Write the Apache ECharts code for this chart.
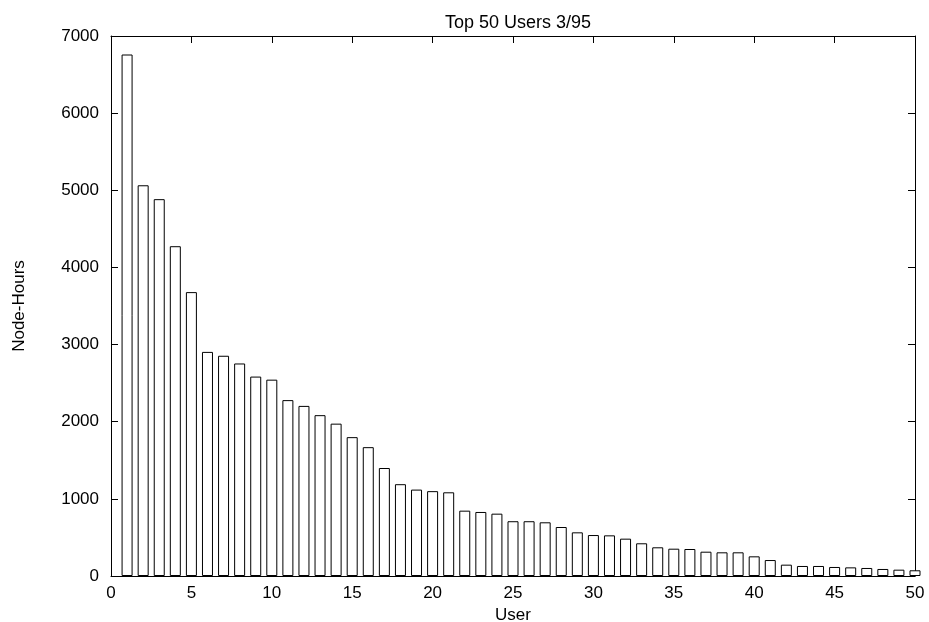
<!DOCTYPE html>
<html>
<head>
<meta charset="utf-8">
<title>Top 50 Users 3/95</title>
<script src="https://cdn.jsdelivr.net/npm/echarts@6/dist/echarts.min.js"></script>
<style>
  html, body { margin: 0; padding: 0; background: #fff; }
  #chart { width: 929px; height: 622px; }
</style>
</head>
<body>
<div id="chart"></div>
<script>
  // user rank 1..50
  var users = [];
  for (var i = 1; i <= 50; i++) users.push(i);

  // node-hours per user
  var nodeHours = [
    6760, 5065, 4885, 4275, 3680, 2905, 2855, 2755, 2585, 2545,
    2280, 2205, 2085, 1975, 1800, 1670, 1400, 1190, 1120, 1100,
    1085, 847, 830, 808, 710, 710, 696, 635, 566, 531,
    527, 484, 424, 372, 354, 350, 315, 307, 307, 255,
    207, 147, 130, 130, 117, 112, 104, 91, 82, 74
  ];

  var xTicks = { min: 0, max: 50, interval: 5 };
  var yTicks = { min: 0, max: 7000, interval: 1000 };

  var font = 'Liberation Sans, Arial, Helvetica, sans-serif';
  var fontSize = 17;

  var seriesData = [];
  for (var j = 0; j < users.length; j++) {
    seriesData.push([users[j], nodeHours[j]]);
  }

  var lineStyle = { color: '#000', width: 1 };
  var tickStyle = { show: true, inside: true, length: 7, lineStyle: { color: '#000', width: 1 } };

  var chart = echarts.init(document.getElementById('chart'), null, { renderer: 'canvas' });

  chart.setOption({
    animation: false,
    backgroundColor: '#fff',
    title: {
      text: 'Top 50 Users 3/95',
      left: 513,
      top: 9,
      textAlign: 'center',
      textStyle: { fontFamily: font, fontSize: 18, fontWeight: 'normal', color: '#000' }
    },
    // fixed plot box, no auto-shrinking for labels
    grid: { left: 111, right: 14, top: 36, bottom: 46, containLabel: false, outerBoundsMode: 'none' },
    xAxis: [{
      type: 'value',
      position: 'bottom',
      min: xTicks.min, max: xTicks.max, interval: xTicks.interval,
      name: 'User',
      nameLocation: 'middle',
      nameGap: 25,
      nameTextStyle: { fontFamily: font, fontSize: fontSize, color: '#000' },
      axisLine: { show: true, onZero: false, lineStyle: lineStyle },
      axisTick: tickStyle,
      axisLabel: { fontFamily: font, fontSize: fontSize, color: '#000', margin: 9 },
      splitLine: { show: false }
    }, {
      type: 'value',
      position: 'top',
      min: xTicks.min, max: xTicks.max, interval: xTicks.interval,
      axisLine: { show: true, onZero: false, lineStyle: lineStyle },
      axisTick: tickStyle,
      axisLabel: { show: false },
      splitLine: { show: false }
    }],
    yAxis: [{
      type: 'value',
      position: 'left',
      min: yTicks.min, max: yTicks.max, interval: yTicks.interval,
      name: 'Node-Hours',
      nameLocation: 'middle',
      nameGap: 83,
      nameRotate: 90,
      nameTextStyle: { fontFamily: font, fontSize: fontSize, color: '#000' },
      axisLine: { show: true, onZero: false, lineStyle: lineStyle },
      axisTick: tickStyle,
      axisLabel: {
        fontFamily: font, fontSize: fontSize, color: '#000', margin: 12,
        formatter: function (v) { return String(v); }
      },
      splitLine: { show: false }
    }, {
      type: 'value',
      position: 'right',
      min: yTicks.min, max: yTicks.max, interval: yTicks.interval,
      axisLine: { show: true, onZero: false, lineStyle: lineStyle },
      axisTick: tickStyle,
      axisLabel: { show: false },
      splitLine: { show: false }
    }],
    series: [{
      type: 'bar',
      xAxisIndex: 0,
      yAxisIndex: 0,
      data: seriesData,
      barWidth: 11,
      clip: true,
      itemStyle: { color: '#fff', borderColor: '#000', borderWidth: 1 }
    }]
  });
</script>
</body>
</html>
